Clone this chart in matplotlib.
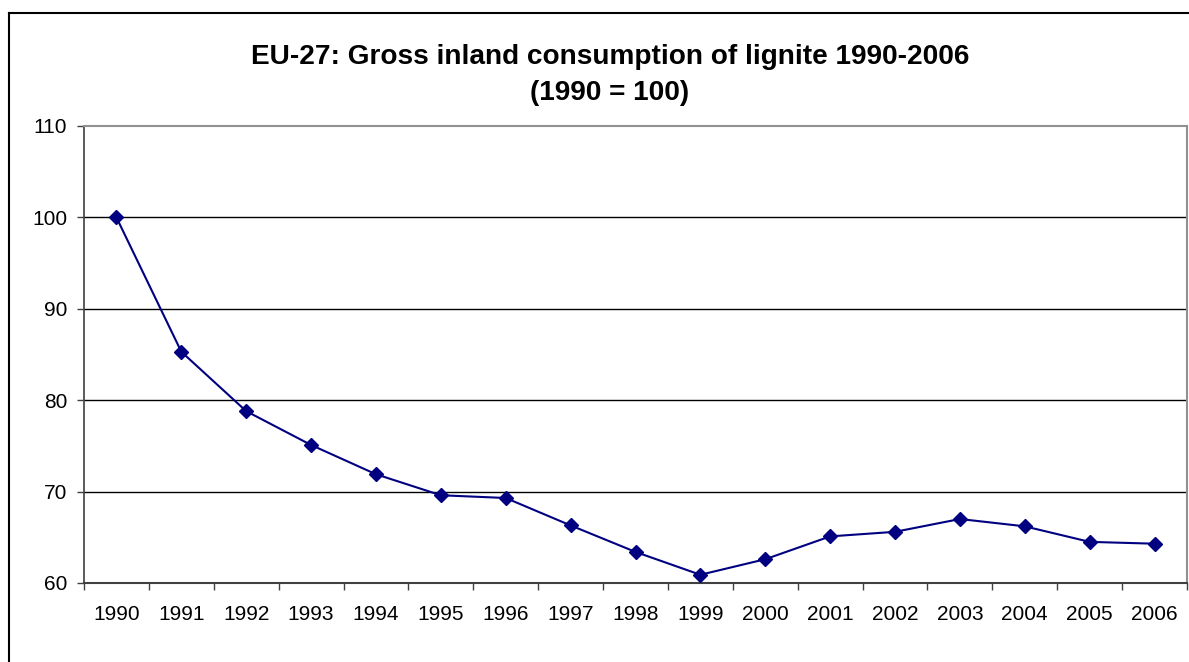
import matplotlib
matplotlib.use("Agg")
import matplotlib.pyplot as plt
from matplotlib.lines import Line2D

years = ["1990", "1991", "1992", "1993", "1994", "1995", "1996", "1997", "1998",
         "1999", "2000", "2001", "2002", "2003", "2004", "2005", "2006"]
values = [100.0, 85.3, 78.8, 75.1, 71.9, 69.6, 69.3, 66.3, 63.4,
          60.9, 62.6, 65.1, 65.6, 67.0, 66.2, 64.5, 64.3]
yticks = [60, 70, 80, 90, 100, 110]
title = "EU-27: Gross inland consumption of lignite 1990-2006\n(1990 = 100)"

plt.rcParams['font.family'] = ['Liberation Sans', 'DejaVu Sans']

W, H = 1189, 662
fig = plt.figure(figsize=(W / 100, H / 100), dpi=100)

# outer chart border
fig.add_artist(Line2D([9 / W, 9 / W], [0, 1 - 13 / H], transform=fig.transFigure,
                      color='black', lw=1.5))
fig.add_artist(Line2D([9 / W, 1], [1 - 13 / H, 1 - 13 / H], transform=fig.transFigure,
                      color='black', lw=1.5))

left, right, top, bottom = 84, 1187, 126, 583
ax = fig.add_axes([left / W, 1 - bottom / H, (right - left) / W, (bottom - top) / H])

x = list(range(len(years)))
ax.plot(x, values, color='#000080', lw=1.5, marker='D', markersize=7.5,
        markerfacecolor='#000080', markeredgecolor='#000080', zorder=3)

ax.set_xlim(-0.5, len(years) - 0.5)
ax.set_ylim(60, 110)
ax.set_yticks(yticks)
ax.set_yticklabels([str(v) for v in yticks])
for v in yticks[1:-1]:
    ax.axhline(v, color='black', lw=1.0, zorder=1)

ax.set_xticks([i - 0.5 for i in range(len(years) + 1)])
ax.set_xticklabels([])
ax.set_xticks(x, minor=True)
ax.set_xticklabels(years, minor=True)
ax.tick_params(axis='x', which='major', direction='out', length=5, width=1, color='#404040')
ax.tick_params(axis='x', which='minor', length=0, pad=16, labelsize=15)
ax.tick_params(axis='y', direction='out', length=5, width=1, color='#404040',
               pad=7, labelsize=15)

ax.spines['left'].set_color('#404040')
ax.spines['bottom'].set_color('#404040')
ax.spines['left'].set_linewidth(1.2)
ax.spines['bottom'].set_linewidth(1.5)
ax.spines['top'].set_color('#909090')
ax.spines['right'].set_color('#909090')
ax.spines['top'].set_linewidth(1.5)
ax.spines['right'].set_linewidth(1.5)

fig.text(610 / W, 1 - 75 / H, title, ha='center', va='center',
         fontsize=20.2, fontweight='bold', linespacing=1.5)

fig.savefig("out.png", dpi=100)
